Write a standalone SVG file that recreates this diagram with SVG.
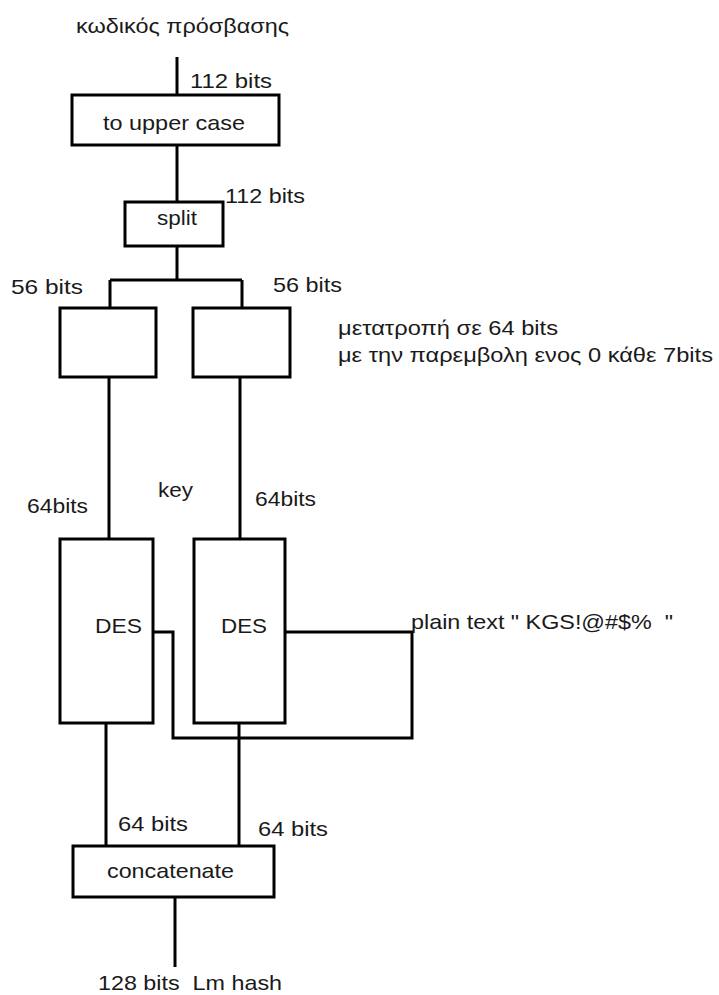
<svg xmlns="http://www.w3.org/2000/svg" width="719" height="995" viewBox="0 0 719 995">
<style>
.box{fill:#fff;stroke:#000;stroke-width:3}
.ln{fill:none;stroke:#000;stroke-width:3;stroke-linejoin:miter}
text{font-family:"Liberation Sans",Arial,"DejaVu Sans",sans-serif;font-size:21px;fill:#1a1a1a;white-space:pre}
.g{font-size:20px}
</style>
<rect width="719" height="995" fill="#fff"/>
<g id="connectors">
<path class="ln" d="M177 57V95"/>
<path class="ln" d="M177 145V202"/>
<path class="ln" d="M177 246V280M110 280H242M110 280V308M242 280V308"/>
<path class="ln" d="M109 377V539"/>
<path class="ln" d="M240 377V539"/>
<path class="ln" d="M153 632H173V738H412V632H285"/>
<path class="ln" d="M106 723V846"/>
<path class="ln" d="M239 723V846"/>
<path class="ln" d="M175 897V967"/>
</g>
<g id="input"><text x="76" y="33" textLength="213" lengthAdjust="spacingAndGlyphs">κωδικός πρόσβασης</text></g>
<g id="lbl112a"><text x="190" y="88" textLength="82" lengthAdjust="spacingAndGlyphs">112 bits</text></g>
<g id="upper"><rect class="box" x="72" y="95" width="207" height="50"/><text x="103" y="130" textLength="142" lengthAdjust="spacingAndGlyphs">to upper case</text></g>
<g id="lbl112b"><text x="225" y="203" textLength="80" lengthAdjust="spacingAndGlyphs">112 bits</text></g>
<g id="split"><rect class="box" x="125" y="202" width="98" height="44"/><text x="157" y="225" textLength="40" lengthAdjust="spacingAndGlyphs">split</text></g>
<g id="lbl56a"><text x="11" y="294" textLength="72" lengthAdjust="spacingAndGlyphs">56 bits</text></g>
<g id="lbl56b"><text x="273" y="292" textLength="69" lengthAdjust="spacingAndGlyphs">56 bits</text></g>
<g id="convL"><rect class="box" x="60" y="308" width="96" height="69"/></g>
<g id="convR"><rect class="box" x="193" y="308" width="97" height="69"/></g>
<g id="convNote"><text class="g" x="338" y="335" textLength="220" lengthAdjust="spacingAndGlyphs">μετατροπή σε 64 bits</text><text class="g" x="338" y="362" textLength="375" lengthAdjust="spacingAndGlyphs">με την παρεμβολη ενος 0 κάθε 7bits</text></g>
<g id="key"><text x="158" y="497" textLength="35" lengthAdjust="spacingAndGlyphs">key</text></g>
<g id="lbl64a"><text x="27" y="513" textLength="61" lengthAdjust="spacingAndGlyphs">64bits</text></g>
<g id="lbl64b"><text x="255" y="506" textLength="61" lengthAdjust="spacingAndGlyphs">64bits</text></g>
<g id="desL"><rect class="box" x="60" y="539" width="93" height="184"/><text x="95" y="633" textLength="47" lengthAdjust="spacingAndGlyphs">DES</text></g>
<g id="desR"><rect class="box" x="194" y="539" width="91" height="184"/><text x="221" y="633" textLength="46" lengthAdjust="spacingAndGlyphs">DES</text></g>
<g id="plain"><text x="411" y="629" textLength="262" lengthAdjust="spacingAndGlyphs">plain text " KGS!@#$%  "</text></g>
<g id="lbl64c"><text x="118" y="831" textLength="70" lengthAdjust="spacingAndGlyphs">64 bits</text></g>
<g id="lbl64d"><text x="258" y="836" textLength="70" lengthAdjust="spacingAndGlyphs">64 bits</text></g>
<g id="concat"><rect class="box" x="73" y="846" width="201" height="51"/><text x="107" y="878" textLength="127" lengthAdjust="spacingAndGlyphs">concatenate</text></g>
<g id="output"><text x="98" y="990" textLength="184" lengthAdjust="spacingAndGlyphs">128 bits  Lm hash</text></g>
</svg>
